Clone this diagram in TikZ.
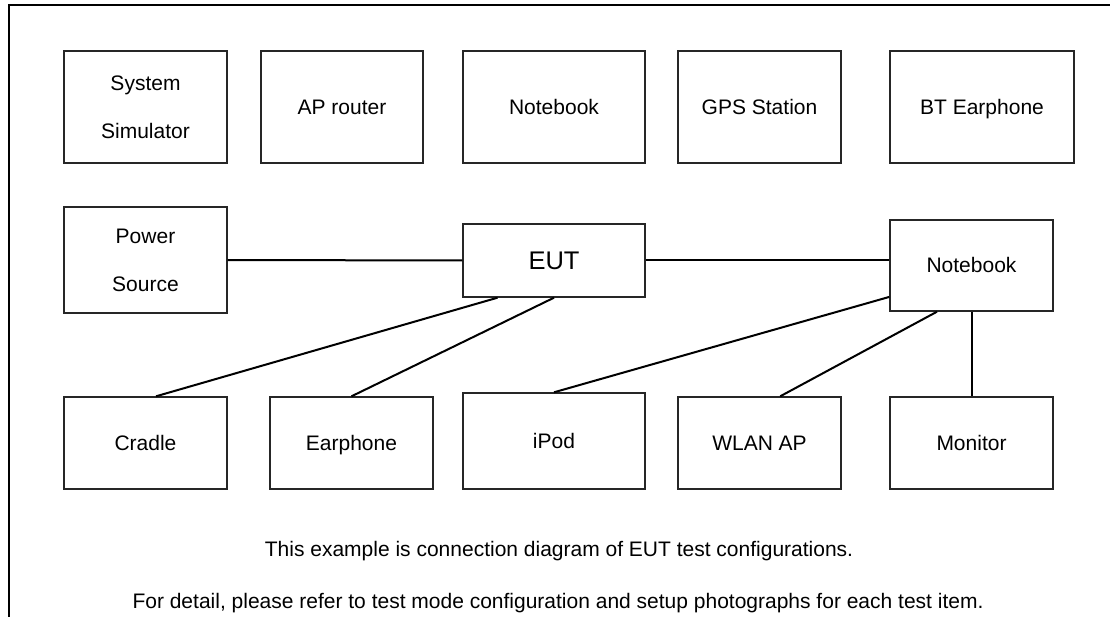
\documentclass[tikz,border=0pt]{standalone}
\usepackage{fontspec}
\setmainfont{Liberation Sans}
\usetikzlibrary{calc}
\begin{document}
\begin{tikzpicture}[x=1pt,y=-1pt,
  box/.style={draw=black!85,line width=1.4pt,rectangle,inner sep=0pt,align=center,
    font=\fontsize{21}{48}\selectfont},
  one/.style={text height=15pt,text depth=0pt},
  link/.style={draw=black,line width=2pt},
  note/.style={font=\fontsize{21}{25}\selectfont,inner sep=0pt}]
\useasboundingbox (0,0) rectangle (1110,617);
% frame
\draw[line width=2.8pt] (9,617) -- (9,5) -- (1110,5);
% top row
\node[box,minimum width=163pt,minimum height=112pt] (ss) at (145.5,107) {System\\Simulator};
\node[box,one,minimum width=162pt,minimum height=112pt] (ap) at (342,107) {AP router};
\node[box,one,minimum width=182pt,minimum height=112pt] (nb1) at (554,107) {Notebook};
\node[box,one,minimum width=163pt,minimum height=112pt] (gps) at (759.5,107) {GPS Station};
\node[box,one,minimum width=184pt,minimum height=112pt] (bt) at (982,107) {BT Earphone};
% middle row
\node[box,minimum width=163pt,minimum height=106pt] (ps) at (145.5,260) {Power\\Source};
\node[box,minimum width=182pt,minimum height=73pt,text height=18pt,text depth=0pt,font=\fontsize{25.5}{30}\selectfont] (eut) at (554,260.5) {EUT};
\node[box,one,minimum width=163pt,minimum height=91pt] (nb2) at (971.5,265.5) {Notebook};
% bottom row
\node[box,one,minimum width=163pt,minimum height=92pt] (cr) at (145.5,443) {Cradle};
\node[box,one,minimum width=163pt,minimum height=92pt] (ep) at (351.5,443) {Earphone};
\node[box,one,minimum width=182pt,minimum height=96pt] (ipod) at (554,441) {iPod};
\node[box,one,minimum width=163pt,minimum height=92pt] (wlan) at (759.5,443) {WLAN AP};
\node[box,one,minimum width=163pt,minimum height=92pt] (mon) at (971.5,443) {Monitor};
% connectors
\draw[link] (ps.east) -- (eut.west);
\draw[link] (eut.east) -- (eut.east -| nb2.west);
\draw[link] ($(eut.south west)!0.192!(eut.south east)$) -- ($(cr.north west)!0.564!(cr.north east)$);
\draw[link] (eut.south) -- (ep.north);
\draw[link] ($(nb2.south west)!0.16!(nb2.north west)$) -- (ipod.north);
\draw[link] ($(nb2.south west)!0.29!(nb2.south east)$) -- ($(wlan.north west)!0.626!(wlan.north east)$);
\draw[link] (nb2.south) -- (mon.north);
% notes
\node[note] (n1) at (559,551) {This example is connection diagram of EUT test configurations.};
\node[note] (n2) at (558,603) {For detail, please refer to test mode configuration and setup photographs for each test item.};
\end{tikzpicture}
\end{document}
